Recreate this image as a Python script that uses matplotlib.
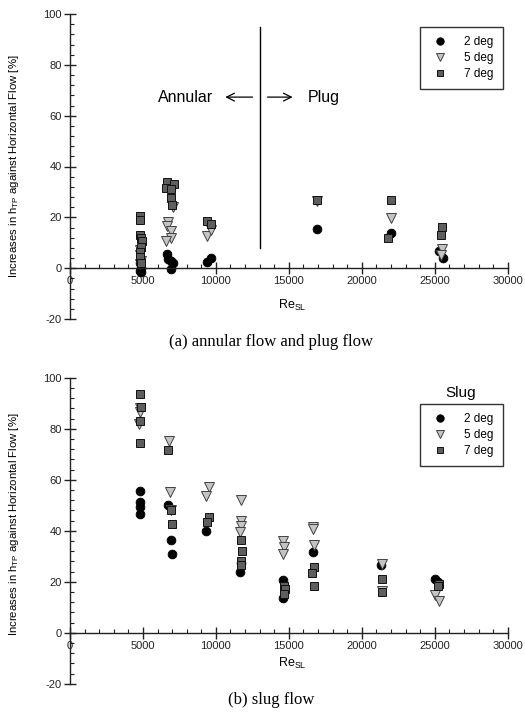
import matplotlib
matplotlib.use("Agg")
import matplotlib.pyplot as plt
from matplotlib.ticker import MultipleLocator

plt.rcParams['font.family'] = ['Liberation Sans', 'DejaVu Sans']
plt.rcParams['axes.unicode_minus'] = False

# ---------------- data: (a) annular flow and plug flow ----------------
a2_x = [4800, 4850, 4800, 4900, 6650, 6700, 6900, 7050, 6900, 9400, 9650, 16950, 22000, 25300, 25550]
a2_y = [2, 0, -1, -1.5, 5.5, 3.5, 3, 2, -0.5, 2.5, 4, 15.5, 14, 6.8, 4]
a5_x = [4800, 4800, 4850, 4800, 6700, 6650, 6950, 6950, 6600, 7050, 9400, 9650, 16950, 22000, 25500, 25450]
a5_y = [7, 5, 3, 1.5, 18, 16.5, 14.5, 12, 10.5, 24, 12.5, 15, 26.5, 19.6, 7.5, 5]
a7_x = [4800, 4800, 4800, 4850, 4950, 4900, 4800, 4800, 4850, 6650, 6600, 7100, 6950, 6950, 7000,
        9400, 9650, 16950, 22000, 21800, 25500, 25400]
a7_y = [20.5, 19, 13, 12, 10.5, 8.5, 6.5, 4.5, 2, 34, 31.5, 33, 31, 27.5, 25,
        18.7, 17.5, 27, 27, 12, 16.3, 13]

# ---------------- data: (b) slug flow ----------------
b2_x = [4800, 4800, 4800, 4800, 6700, 6900, 7000, 9350, 11650, 11700, 14600, 14600, 16650, 21350, 25050, 25200]
b2_y = [55.6, 51.4, 49.4, 46.5, 50, 36.4, 30.9, 40, 24, 27.5, 20.5, 13.5, 31.8, 26.5, 21.2, 19.8]
b5_x = [4800, 4800, 4750, 6800, 6850, 6900, 9500, 9350, 11700, 11750, 11750, 11650, 14600, 14650, 14600,
        16650, 16650, 16700, 21400, 21400, 25050, 25300]
b5_y = [88, 86.5, 82, 75.2, 55.3, 48, 57.3, 53.6, 52.2, 44, 42, 39.5, 36.1, 33.5, 31,
        41.5, 40.5, 34.4, 27, 16.5, 14.6, 12.6]
b7_x = [4800, 4850, 4800, 4800, 6750, 6900, 7000, 9550, 9400, 11700, 11800, 11750, 11700,
        14700, 14750, 14650, 16700, 16600, 16750, 21400, 21400, 25300, 25250]
b7_y = [93.5, 88.5, 83, 74.2, 71.6, 48, 42.5, 45.5, 43.5, 36.3, 32.2, 28, 26.5,
        18.5, 17.2, 15, 25.9, 23.5, 18.3, 20.9, 15.8, 19.2, 18.2]

series_labels = ['2 deg', '5 deg', '7 deg']
ylabel = 'Increases in h$_{\\mathregular{TP}}$ against Horizontal Flow [%]'

W, H = 525, 715
fig = plt.figure(figsize=(W / 100, H / 100), dpi=100)


def fx(px):
    return px / W


def fy(py):
    return 1 - py / H


def make_axes(top_px, bot_px):
    ax = fig.add_axes([fx(70), fy(bot_px), fx(507.7) - fx(70), fy(top_px) - fy(bot_px)])
    ax.set_xlim(0, 30000)
    ax.set_ylim(-20, 100)
    for s in ['top', 'right']:
        ax.spines[s].set_visible(False)
    ax.spines['bottom'].set_position(('data', 0))
    for s in ['left', 'bottom']:
        ax.spines[s].set_linewidth(1.0)
        ax.spines[s].set_color('#222222')
    ax.xaxis.set_major_locator(MultipleLocator(5000))
    ax.xaxis.set_minor_locator(MultipleLocator(1000))
    ax.yaxis.set_major_locator(MultipleLocator(20))
    ax.yaxis.set_minor_locator(MultipleLocator(4))
    ax.tick_params(which='major', direction='inout', length=8, width=1, labelsize=8,
                   colors='#222222', pad=2)
    ax.tick_params(which='minor', direction='in', length=3, width=0.8, colors='#222222')
    ax.patch.set_alpha(0)
    return ax


def draw_points(ax, x2, y2, x5, y5, x7, y7):
    h1, = ax.plot(x2, y2, 'o', ms=6.3, mfc='black', mec='black', mew=0.6, ls='none', label=series_labels[0])
    h2, = ax.plot(x5, y5, 'v', ms=6.8, mfc='#c4c4c4', mec='#404040', mew=0.7, ls='none', label=series_labels[1])
    h3, = ax.plot(x7, y7, 's', ms=5.8, mfc='#5e5e5e', mec='#111111', mew=0.7, ls='none', label=series_labels[2])
    return [h1, h2, h3]


def add_legend(ax, handles, top_px):
    leg = ax.legend(handles=handles, loc='upper right', bbox_to_anchor=(fx(502.5), fy(top_px)),
                    bbox_transform=fig.transFigure, fontsize=8.5, frameon=True, fancybox=False,
                    edgecolor='black', handletextpad=1.1, labelspacing=0.35, borderpad=0.75,
                    handlelength=1.9, borderaxespad=0, markerscale=0.85)
    leg.get_frame().set_linewidth(1.0)
    return leg


# ---------------- top panel ----------------
ax1 = make_axes(14, 319)
hs = draw_points(ax1, a2_x, a2_y, a5_x, a5_y, a7_x, a7_y)
ax1.plot([13000, 13000], [8, 95], color='black', lw=1)
ax1.annotate('', xy=(10450, 67.3), xytext=(12700, 67.3),
             arrowprops=dict(arrowstyle='->', lw=0.9, color='black', mutation_scale=14))
ax1.annotate('', xy=(15450, 67.3), xytext=(13350, 67.3),
             arrowprops=dict(arrowstyle='->', lw=0.9, color='black', mutation_scale=14))
ax1.text(9800, 67.3, 'Annular', ha='right', va='center', fontsize=11.5)
ax1.text(16300, 67.3, 'Plug', ha='left', va='center', fontsize=11.5)
add_legend(ax1, hs, 27)
fig.text(fx(292), fy(305), 'Re$_{\\mathregular{SL}}$', ha='center', va='center', fontsize=9)
fig.text(fx(14), fy(166), ylabel, rotation=90, ha='center', va='center', fontsize=8.2)
fig.text(fx(271), fy(342), '(a) annular flow and plug flow', ha='center', va='center',
         fontsize=12, family='Liberation Serif')

# ---------------- bottom panel ----------------
ax2 = make_axes(377.7, 683.7)
hs2 = draw_points(ax2, b2_x, b2_y, b5_x, b5_y, b7_x, b7_y)
add_legend(ax2, hs2, 404)
fig.text(fx(461), fy(393), 'Slug', ha='center', va='center', fontsize=11)
fig.text(fx(292), fy(663), 'Re$_{\\mathregular{SL}}$', ha='center', va='center', fontsize=9)
fig.text(fx(14), fy(524), ylabel, rotation=90, ha='center', va='center', fontsize=8.2)
fig.text(fx(271), fy(700), '(b) slug flow', ha='center', va='center',
         fontsize=12, family='Liberation Serif')

fig.savefig('out.png', dpi=100, facecolor='white')
